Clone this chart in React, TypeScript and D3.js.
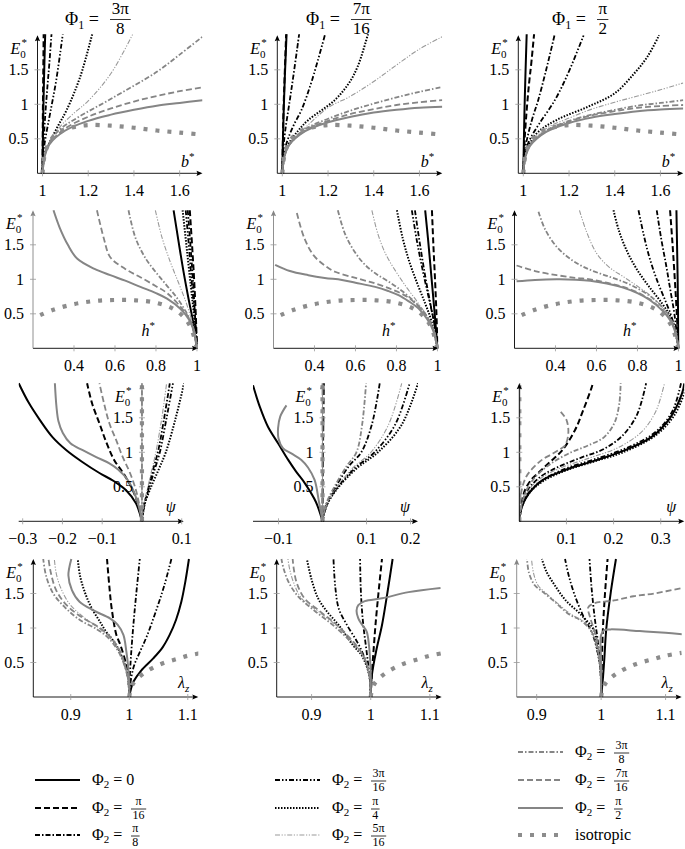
import React from "react";
import * as d3 from "d3";

type Pt = [number, number];

// series order: Φ2 = 0, π/16, π/8, 3π/16, π/4, 5π/16, 3π/8, 7π/16, π/2, isotropic
const phi2Labels = ["0", "π/16", "π/8", "3π/16", "π/4", "5π/16", "3π/8", "7π/16", "π/2", "isotropic"];
const phi1Labels = ["3π/8", "7π/16", "π/2"];

const bTicks = [1, 1.2, 1.4, 1.6];
const hTicks = [0.4, 0.6, 0.8, 1];
const psiTicks = [[-0.3, -0.2, -0.1, 0.1], [-0.1, 0.1, 0.2], [0.1, 0.2, 0.3]];
const lambdaTicks = [0.9, 1, 1.1];
const eTicks = [0.5, 1, 1.5];

// isotropic curves, same for every Φ1
const isoB: Pt[] = [[1, 0], [1.01, 0.28], [1.03, 0.45], [1.06, 0.57], [1.1, 0.64], [1.15, 0.68], [1.2, 0.7], [1.3, 0.69], [1.4, 0.66], [1.5, 0.62], [1.6, 0.59], [1.7, 0.56]];
const isoH: Pt[] = [[0.235, 0.48], [0.3, 0.56], [0.4, 0.64], [0.5, 0.685], [0.6, 0.7], [0.7, 0.695], [0.8, 0.66], [0.88, 0.58], [0.93, 0.47], [0.97, 0.3], [1, 0]];
const isoPsi: Pt[] = [[0, 0], [0, 2.0]];
const isoLam: Pt[] = [[1, 0], [1.002, 0.1], [1.007, 0.2], [1.024, 0.34], [1.052, 0.47], [1.081, 0.55], [1.101, 0.6], [1.125, 0.64]];

// row 1: E0* against b*
const b38: Pt[][] = [
  [[1, 0], [1.001, 0.35], [1.003, 0.8], [1.006, 1.3], [1.009, 1.7], [1.012, 2.05]],
  [[1, 0], [1.0005, 0.4], [1.0015, 0.9], [1.003, 1.4], [1.005, 2.05]],
  [[1, 0], [1.003, 0.35], [1.01, 0.75], [1.02, 1.2], [1.03, 1.6], [1.04, 2.05]],
  [[1, 0], [1.005, 0.33], [1.015, 0.55], [1.035, 0.9], [1.06, 1.35], [1.09, 2.05]],
  [[1, 0], [1.01, 0.28], [1.033, 0.46], [1.07, 0.7], [1.106, 0.92], [1.165, 1.4], [1.22, 2.05]],
  [[1, 0], [1.01, 0.27], [1.03, 0.45], [1.07, 0.65], [1.13, 0.85], [1.2, 1.05], [1.3, 1.45], [1.4, 2.05]],
  [[1, 0], [1.01, 0.27], [1.03, 0.44], [1.07, 0.62], [1.15, 0.8], [1.3, 1.08], [1.5, 1.47], [1.6, 1.72], [1.7, 1.98]],
  [[1, 0], [1.01, 0.26], [1.03, 0.43], [1.1, 0.65], [1.2, 0.82], [1.3, 0.94], [1.4, 1.04], [1.5, 1.12], [1.6, 1.19], [1.7, 1.245]],
  [[1, 0], [1.01, 0.25], [1.03, 0.42], [1.1, 0.62], [1.2, 0.76], [1.3, 0.85], [1.4, 0.92], [1.5, 0.98], [1.6, 1.02], [1.7, 1.06]],
];
const b716: Pt[][] = [
  [[1, 0], [1.002, 0.4], [1.006, 0.9], [1.011, 1.4], [1.019, 2.05]],
  [[1, 0], [1.002, 0.4], [1.005, 0.9], [1.01, 1.4], [1.017, 2.05]],
  [[1, 0], [1.004, 0.33], [1.012, 0.6], [1.03, 1.0], [1.05, 1.45], [1.075, 2.05]],
  [[1, 0], [1.008, 0.3], [1.025, 0.5], [1.05, 0.7], [1.084, 0.92], [1.13, 1.35], [1.19, 2.05]],
  [[1, 0], [1.01, 0.27], [1.03, 0.44], [1.07, 0.62], [1.113, 0.77], [1.229, 1.06], [1.29, 1.3], [1.33, 1.55], [1.375, 2.02]],
  [[1, 0], [1.01, 0.26], [1.03, 0.43], [1.1, 0.66], [1.2, 0.95], [1.3, 1.12], [1.4, 1.33], [1.5, 1.57], [1.6, 1.8], [1.7, 1.98]],
  [[1, 0], [1.01, 0.26], [1.03, 0.42], [1.1, 0.64], [1.2, 0.79], [1.3, 0.91], [1.4, 1.01], [1.5, 1.1], [1.6, 1.18], [1.7, 1.25]],
  [[1, 0], [1.01, 0.25], [1.03, 0.41], [1.1, 0.62], [1.2, 0.76], [1.3, 0.86], [1.4, 0.93], [1.5, 0.99], [1.6, 1.03], [1.7, 1.06]],
  [[1, 0], [1.01, 0.25], [1.03, 0.41], [1.1, 0.61], [1.2, 0.74], [1.3, 0.82], [1.4, 0.88], [1.5, 0.92], [1.6, 0.95], [1.7, 0.965]],
];
const b12: Pt[][] = [
  [[1, 0], [1.002, 0.4], [1.005, 0.9], [1.009, 1.4], [1.015, 2.05]],
  [[1, 0], [1.004, 0.38], [1.012, 0.8], [1.025, 1.3], [1.035, 1.6], [1.048, 2.05]],
  [[1, 0], [1.006, 0.32], [1.02, 0.55], [1.04, 0.8], [1.065, 1.06], [1.1, 1.5], [1.14, 2.05]],
  [[1, 0], [1.008, 0.3], [1.03, 0.5], [1.07, 0.72], [1.138, 1.06], [1.196, 1.45], [1.27, 2.05]],
  [[1, 0], [1.01, 0.27], [1.03, 0.44], [1.065, 0.6], [1.15, 0.78], [1.283, 0.965], [1.4, 1.16], [1.486, 1.45], [1.543, 1.69], [1.594, 2.0]],
  [[1, 0], [1.01, 0.26], [1.03, 0.43], [1.1, 0.65], [1.2, 0.8], [1.3, 0.93], [1.4, 1.03], [1.5, 1.12], [1.6, 1.21], [1.7, 1.31]],
  [[1, 0], [1.01, 0.25], [1.03, 0.42], [1.1, 0.62], [1.2, 0.76], [1.3, 0.85], [1.4, 0.92], [1.5, 0.98], [1.6, 1.02], [1.7, 1.06]],
  [[1, 0], [1.01, 0.25], [1.03, 0.41], [1.1, 0.61], [1.2, 0.75], [1.3, 0.84], [1.4, 0.9], [1.5, 0.95], [1.6, 0.975], [1.7, 0.99]],
  [[1, 0], [1.01, 0.25], [1.03, 0.4], [1.1, 0.6], [1.2, 0.73], [1.3, 0.81], [1.4, 0.86], [1.5, 0.9], [1.6, 0.925], [1.7, 0.94]],
];

// row 2: E0* against h*
const h38: Pt[][] = [
  [[0.886, 2.0], [0.91, 1.55], [0.935, 1.1], [0.96, 0.7], [0.98, 0.4], [1, 0]],
  [[0.965, 2.0], [0.976, 1.5], [0.986, 1.0], [0.994, 0.5], [1, 0]],
  [[0.955, 2.0], [0.968, 1.5], [0.98, 1.0], [0.99, 0.5], [1, 0]],
  [[0.945, 2.0], [0.96, 1.5], [0.975, 0.95], [0.99, 0.45], [1, 0]],
  [[0.93, 2.0], [0.95, 1.45], [0.97, 0.9], [0.985, 0.5], [1, 0]],
  [[0.797, 2.0], [0.83, 1.6], [0.87, 1.25], [0.91, 0.95], [0.945, 0.68], [0.97, 0.45], [0.99, 0.22], [1, 0]],
  [[0.666, 2.0], [0.7, 1.6], [0.75, 1.3], [0.8, 1.1], [0.85, 0.92], [0.9, 0.74], [0.94, 0.56], [0.97, 0.38], [1, 0]],
  [[0.512, 2.0], [0.545, 1.6], [0.577, 1.32], [0.65, 1.15], [0.724, 1.03], [0.8, 0.9], [0.854, 0.8], [0.92, 0.6], [0.96, 0.44], [0.985, 0.26], [1, 0]],
  [[0.3, 2.0], [0.33, 1.75], [0.37, 1.5], [0.415, 1.3], [0.5, 1.15], [0.577, 1.06], [0.65, 0.98], [0.724, 0.89], [0.8, 0.8], [0.854, 0.72], [0.92, 0.57], [0.96, 0.42], [0.985, 0.25], [1, 0]],
];
const h716: Pt[][] = [
  [[0.94, 2.0], [0.955, 1.55], [0.97, 1.05], [0.985, 0.55], [1, 0]],
  [[0.973, 2.0], [0.98, 1.5], [0.988, 1.0], [0.995, 0.5], [1, 0]],
  [[0.89, 2.0], [0.915, 1.5], [0.94, 1.05], [0.965, 0.65], [0.988, 0.3], [1, 0]],
  [[0.875, 2.0], [0.9, 1.55], [0.93, 1.1], [0.96, 0.7], [0.985, 0.35], [1, 0]],
  [[0.802, 2.0], [0.83, 1.6], [0.86, 1.28], [0.9, 0.95], [0.94, 0.65], [0.97, 0.4], [1, 0]],
  [[0.68, 2.0], [0.71, 1.65], [0.75, 1.35], [0.8, 1.1], [0.85, 0.88], [0.9, 0.68], [0.95, 0.46], [0.98, 0.28], [1, 0]],
  [[0.514, 2.0], [0.55, 1.65], [0.6, 1.38], [0.65, 1.2], [0.7, 1.08], [0.77, 0.95], [0.84, 0.8], [0.9, 0.64], [0.95, 0.46], [0.98, 0.28], [1, 0]],
  [[0.314, 1.96], [0.35, 1.6], [0.395, 1.35], [0.45, 1.2], [0.5, 1.11], [0.6, 1.02], [0.696, 0.94], [0.78, 0.85], [0.85, 0.75], [0.91, 0.6], [0.95, 0.45], [0.98, 0.27], [1, 0]],
  [[0.208, 1.21], [0.28, 1.12], [0.37, 1.06], [0.45, 1.02], [0.534, 0.99], [0.6, 0.95], [0.696, 0.89], [0.76, 0.83], [0.81, 0.77], [0.86, 0.68], [0.907, 0.58], [0.95, 0.42], [0.98, 0.25], [1, 0]],
];
const h12: Pt[][] = [
  [[0.99, 2.0], [0.993, 1.5], [0.996, 1.0], [0.998, 0.5], [1, 0]],
  [[0.959, 2.0], [0.97, 1.55], [0.98, 1.1], [0.99, 0.6], [1, 0]],
  [[0.894, 2.0], [0.915, 1.6], [0.94, 1.2], [0.96, 0.85], [0.98, 0.5], [1, 0]],
  [[0.805, 2.0], [0.83, 1.65], [0.86, 1.3], [0.9, 0.95], [0.94, 0.66], [0.97, 0.42], [1, 0]],
  [[0.683, 2.0], [0.71, 1.7], [0.75, 1.4], [0.8, 1.13], [0.86, 0.88], [0.92, 0.65], [0.96, 0.46], [0.985, 0.27], [1, 0]],
  [[0.517, 2.0], [0.55, 1.7], [0.6, 1.38], [0.66, 1.18], [0.73, 1.04], [0.8, 0.9], [0.86, 0.77], [0.92, 0.6], [0.96, 0.44], [0.985, 0.26], [1, 0]],
  [[0.317, 1.98], [0.35, 1.72], [0.406, 1.47], [0.47, 1.3], [0.537, 1.18], [0.62, 1.08], [0.7, 1.0], [0.78, 0.9], [0.86, 0.76], [0.92, 0.6], [0.96, 0.44], [0.985, 0.25], [1, 0]],
  [[0.21, 1.2], [0.3, 1.12], [0.406, 1.06], [0.5, 1.02], [0.569, 1.0], [0.65, 0.95], [0.73, 0.89], [0.8, 0.81], [0.86, 0.71], [0.92, 0.56], [0.96, 0.41], [0.985, 0.24], [1, 0]],
  [[0.21, 0.97], [0.3, 0.99], [0.406, 1.0], [0.5, 0.995], [0.569, 0.98], [0.65, 0.94], [0.73, 0.88], [0.8, 0.8], [0.86, 0.7], [0.92, 0.55], [0.959, 0.41], [0.985, 0.23], [1, 0]],
];

// row 3: E0* against ψ
const psi38: Pt[][] = [
  [[0, 0], [-0.015, 0.26], [-0.04, 0.45], [-0.07, 0.58], [-0.107, 0.7], [-0.15, 0.86], [-0.19, 1.03], [-0.225, 1.22], [-0.257, 1.47], [-0.285, 1.72], [-0.31, 2.0]],
  [[0, 0], [-0.01, 0.25], [-0.023, 0.45], [-0.045, 0.68], [-0.07, 0.89], [-0.09, 1.15], [-0.107, 1.42], [-0.125, 1.7], [-0.138, 2.0]],
  [[0, 0], [0.006, 0.25], [0.017, 0.5], [0.028, 0.75], [0.04, 1.0], [0.056, 1.5], [0.07, 2.0]],
  [[0, 0], [0.006, 0.25], [0.019, 0.5], [0.032, 0.75], [0.045, 1.0], [0.062, 1.5], [0.078, 2.0]],
  [[0, 0], [0.007, 0.25], [0.023, 0.5], [0.042, 0.75], [0.06, 1.0], [0.085, 1.5], [0.106, 2.0]],
  [[0, 0], [0.005, 0.25], [0.015, 0.5], [0.025, 0.75], [0.035, 1.0], [0.05, 1.5], [0.062, 2.0]],
  [[0, 0], [0, 2.0]],
  [[0, 0], [-0.007, 0.25], [-0.015, 0.45], [-0.03, 0.7], [-0.049, 0.94], [-0.065, 1.18], [-0.082, 1.42], [-0.095, 1.7], [-0.107, 2.0]],
  [[0, 0], [-0.012, 0.3], [-0.036, 0.6], [-0.06, 0.75], [-0.082, 0.84], [-0.115, 0.93], [-0.149, 1.03], [-0.18, 1.13], [-0.199, 1.28], [-0.21, 1.45], [-0.215, 1.66], [-0.219, 2.0]],
];
const psi716: Pt[][] = [
  [[0, 0], [-0.015, 0.28], [-0.04, 0.55], [-0.06, 0.72], [-0.078, 0.89], [-0.1, 1.12], [-0.124, 1.37], [-0.142, 1.65], [-0.158, 1.97]],
  [[0, 0], [0.001, 1.0], [0.003, 2.0]],
  [[0, 0], [0.009, 0.25], [0.03, 0.5], [0.06, 0.8], [0.088, 1.0], [0.112, 1.4], [0.13, 2.0]],
  [[0, 0], [0.01, 0.25], [0.035, 0.5], [0.075, 0.78], [0.118, 1.0], [0.165, 1.4], [0.198, 2.0]],
  [[0, 0], [0.011, 0.25], [0.037, 0.5], [0.08, 0.78], [0.126, 1.0], [0.18, 1.4], [0.217, 2.0]],
  [[0, 0], [0.01, 0.25], [0.033, 0.5], [0.07, 0.78], [0.11, 1.0], [0.15, 1.4], [0.18, 2.0]],
  [[0, 0], [0.008, 0.25], [0.027, 0.5], [0.055, 0.8], [0.077, 1.0], [0.09, 1.4], [0.099, 2.0]],
  [[0, 0], [0, 2.0]],
  [[0, 0], [-0.008, 0.28], [-0.018, 0.6], [-0.033, 0.78], [-0.048, 0.89], [-0.07, 0.98], [-0.09, 1.06], [-0.1, 1.2], [-0.101, 1.35], [-0.096, 1.52], [-0.082, 1.68]],
];
const psi12: Pt[][] = [
  [[0, 0], [0.005, 0.2], [0.02, 0.4], [0.05, 0.6], [0.1, 0.75], [0.16, 0.88], [0.22, 1.02], [0.28, 1.22], [0.32, 1.5], [0.345, 1.85], [0.35, 2.0]],
  [[0, 0], [0.003, 0.2], [0.012, 0.45], [0.025, 0.6], [0.04, 0.7], [0.065, 0.86], [0.09, 1.02], [0.118, 1.32], [0.135, 1.6], [0.153, 1.93], [0.156, 2.0]],
  [[0, 0], [0.004, 0.2], [0.015, 0.42], [0.04, 0.62], [0.08, 0.78], [0.13, 0.92], [0.18, 1.05], [0.22, 1.25], [0.25, 1.55], [0.269, 2.0]],
  [[0, 0], [0.005, 0.2], [0.018, 0.4], [0.05, 0.6], [0.1, 0.77], [0.16, 0.9], [0.23, 1.07], [0.29, 1.3], [0.325, 1.6], [0.343, 2.0]],
  [[0, 0], [0.005, 0.2], [0.02, 0.4], [0.05, 0.58], [0.1, 0.74], [0.16, 0.87], [0.22, 1.0], [0.29, 1.25], [0.33, 1.55], [0.355, 1.95]],
  [[0, 0], [0.004, 0.2], [0.016, 0.42], [0.045, 0.62], [0.09, 0.78], [0.15, 0.92], [0.21, 1.07], [0.26, 1.3], [0.29, 1.6], [0.308, 2.0]],
  [[0, 0], [0.004, 0.2], [0.015, 0.45], [0.035, 0.65], [0.07, 0.85], [0.11, 1.0], [0.146, 1.1], [0.18, 1.22], [0.202, 1.43], [0.212, 1.7], [0.215, 2.0]],
  [[0, 0], [0.002, 0.2], [0.005, 0.45], [0.015, 0.65], [0.033, 0.8], [0.05, 0.9], [0.068, 0.97], [0.085, 1.04], [0.097, 1.1], [0.104, 1.28], [0.1, 1.47], [0.086, 1.6]],
  [[0, 0], [0, 2.0]],
];

// row 4: E0* against λz
const lam38: Pt[][] = [
  [[1, 0], [1.003, 0.12], [1.007, 0.22], [1.02, 0.38], [1.041, 0.56], [1.057, 0.72], [1.069, 0.9], [1.08, 1.12], [1.089, 1.38], [1.096, 1.68], [1.102, 2.0]],
  [[1, 0], [0.999, 0.2], [0.995, 0.46], [0.985, 0.75], [0.978, 0.9], [0.97, 1.28], [0.966, 1.6], [0.962, 2.0]],
  [[1, 0], [1.001, 0.3], [1.003, 0.6], [1.007, 1.04], [1.012, 1.5], [1.018, 2.0]],
  [[1, 0], [1.002, 0.2], [1.008, 0.45], [1.018, 0.65], [1.03, 0.88], [1.047, 1.28], [1.06, 1.62], [1.072, 2.0]],
  [[1, 0], [0.999, 0.2], [0.995, 0.4], [0.978, 0.75], [0.96, 0.95], [0.95, 1.09], [0.935, 1.3], [0.924, 1.52], [0.916, 1.75], [0.912, 2.0]],
  [[1, 0], [0.999, 0.2], [0.993, 0.45], [0.984, 0.65], [0.968, 0.85], [0.948, 1.0], [0.92, 1.17], [0.897, 1.36], [0.882, 1.6], [0.875, 1.8], [0.872, 2.0]],
  [[1, 0], [0.999, 0.2], [0.992, 0.45], [0.982, 0.65], [0.965, 0.85], [0.945, 0.98], [0.915, 1.12], [0.89, 1.3], [0.87, 1.5], [0.858, 1.75], [0.853, 2.0]],
  [[1, 0], [0.999, 0.2], [0.993, 0.45], [0.985, 0.65], [0.97, 0.85], [0.95, 1.0], [0.92, 1.15], [0.893, 1.33], [0.875, 1.55], [0.866, 1.8], [0.862, 2.0]],
  [[1, 0], [1.0, 0.2], [0.998, 0.45], [0.995, 0.66], [0.99, 0.9], [0.98, 1.05], [0.967, 1.14], [0.94, 1.25], [0.915, 1.38], [0.902, 1.55], [0.896, 1.76], [0.901, 2.0]],
];
const lam716: Pt[][] = [
  [[1, 0], [1.002, 0.32], [1.01, 0.7], [1.019, 1.04], [1.028, 1.5], [1.037, 2.0]],
  [[1, 0], [1.002, 0.35], [1.005, 0.7], [1.008, 1.04], [1.013, 1.5], [1.019, 2.0]],
  [[1, 0], [0.998, 0.3], [0.993, 0.66], [0.988, 1.0], [0.985, 1.28], [0.983, 1.6], [0.982, 2.0]],
  [[1, 0], [0.998, 0.3], [0.988, 0.6], [0.977, 0.8], [0.96, 1.04], [0.946, 1.28], [0.94, 1.6], [0.937, 2.0]],
  [[1, 0], [0.998, 0.3], [0.985, 0.6], [0.97, 0.75], [0.946, 1.04], [0.925, 1.25], [0.911, 1.43], [0.9, 1.7], [0.892, 2.0]],
  [[1, 0], [0.998, 0.3], [0.99, 0.55], [0.979, 0.7], [0.96, 0.88], [0.94, 1.05], [0.91, 1.25], [0.883, 1.43], [0.87, 1.65], [0.863, 1.85], [0.86, 2.0]],
  [[1, 0], [0.998, 0.3], [0.99, 0.55], [0.978, 0.7], [0.957, 0.88], [0.935, 1.05], [0.905, 1.25], [0.878, 1.45], [0.862, 1.65], [0.853, 1.85], [0.849, 2.0]],
  [[1, 0], [0.998, 0.3], [0.99, 0.55], [0.98, 0.7], [0.962, 0.88], [0.942, 1.05], [0.913, 1.25], [0.888, 1.43], [0.875, 1.65], [0.87, 1.85], [0.868, 2.0]],
  [[1, 0], [1.0, 0.32], [0.997, 0.75], [0.993, 0.95], [0.985, 1.05], [0.979, 1.14], [0.976, 1.25], [0.979, 1.33], [0.99, 1.39], [1.019, 1.43], [1.064, 1.52], [1.118, 1.58]],
];
const lam12: Pt[][] = [
  [[1, 0], [1.003, 0.3], [1.005, 0.56], [1.008, 0.99], [1.015, 1.52], [1.023, 2.0]],
  [[1, 0], [1.001, 0.4], [1.002, 0.8], [1.003, 1.04], [1.006, 1.5], [1.01, 2.0]],
  [[1, 0], [0.999, 0.4], [0.995, 0.8], [0.99, 1.15], [0.985, 1.6], [0.982, 2.0]],
  [[1, 0], [0.999, 0.4], [0.992, 0.75], [0.985, 0.95], [0.974, 1.14], [0.96, 1.45], [0.95, 1.75], [0.944, 2.0]],
  [[1, 0], [0.999, 0.4], [0.993, 0.75], [0.99, 0.95], [0.969, 1.19], [0.945, 1.4], [0.928, 1.62], [0.915, 1.82], [0.908, 2.0]],
  [[1, 0], [0.999, 0.4], [0.993, 0.75], [0.985, 0.95], [0.972, 1.1], [0.953, 1.2], [0.932, 1.36], [0.915, 1.5], [0.902, 1.62], [0.895, 1.8], [0.892, 2.0]],
  [[1, 0], [0.999, 0.4], [0.993, 0.75], [0.985, 0.95], [0.97, 1.1], [0.95, 1.2], [0.928, 1.38], [0.91, 1.52], [0.897, 1.62], [0.888, 1.8], [0.885, 2.0]],
  [[1, 0], [0.999, 0.4], [0.995, 0.75], [0.99, 0.95], [0.983, 1.15], [0.98, 1.3], [0.99, 1.36], [1.02, 1.4], [1.05, 1.46], [1.082, 1.5], [1.126, 1.58]],
  [[1, 0], [1.0, 0.5], [1.0, 0.9], [1.005, 0.97], [1.015, 0.98], [1.06, 0.955], [1.1, 0.93], [1.126, 0.91]],
];

const W = 685;
const H = 849;
const PW = 165;
const PH = 138;
const GRAY = "#858585";
const FONT = "Liberation Serif, serif";

const styles = [
  { stroke: "#000", width: 2, dash: "" },
  { stroke: "#000", width: 2, dash: "6 3" },
  { stroke: "#000", width: 1.8, dash: "5 2 1.5 2" },
  { stroke: "#000", width: 1.8, dash: "5 2 1.5 2 1.5 2" },
  { stroke: "#000", width: 2, dash: "1.5 1.5" },
  { stroke: "#9a9a9a", width: 1.1, dash: "5 1.6 1.2 1.6 1.2 1.6" },
  { stroke: GRAY, width: 1.8, dash: "5 2 1.5 2" },
  { stroke: GRAY, width: 1.8, dash: "6 3" },
  { stroke: GRAY, width: 2, dash: "" },
  { stroke: "#8c8c8c", width: 4.2, dash: "4 8" },
];

const rows = [
  { y0: 173.3, lefts: [37.5, 277.3, 518.3], doms: [[0.978, 1.7], [0.978, 1.7], [0.978, 1.7]], ticks: [bTicks, bTicks, bTicks], data: [b38, b716, b12], iso: isoB, label: "b", star: true, sub: "", labelEnd: 8, labelLift: 6, atZero: false, grayY: [false, false, false] },
  { y0: 348.3, lefts: [33, 273.5, 514.5], doms: [[0.2, 1.005], [0.2, 1.005], [0.2, 1.005]], ticks: [hTicks, hTicks, hTicks], data: [h38, h716, h12], iso: isoH, label: "h", star: true, sub: "", labelEnd: 43, labelLift: 12, atZero: false, grayY: [true, true, false] },
  { y0: 521.3, lefts: [18.7, 253, 519.3], doms: [[-0.31, 0.105], [-0.158, 0.217], [0, 0.35]], ticks: psiTicks, data: [psi38, psi716, psi12], iso: isoPsi, label: "ψ", star: false, sub: "", labelEnd: 8, labelLift: 9, atZero: true, grayY: [true, true, false] },
  { y0: 697, lefts: [33.3, 276.7, 516.7], doms: [[0.836, 1.118], [0.841, 1.12], [0.869, 1.125]], ticks: [lambdaTicks, lambdaTicks, lambdaTicks], data: [lam38, lam716, lam12], iso: isoLam, label: "λ", star: false, sub: "z", labelEnd: 9, labelLift: 9, atZero: false, grayY: [false, false, true] },
];

const titleStarts = [65, 306, 552];
const legendPos: Pt[] = [[35, 780], [35, 808], [35, 835], [275, 780], [275, 808], [275, 835], [518, 752], [518, 780], [518, 808], [518, 835]];

const fmt = (v: number) => (v < 0 ? "\u2212" : "") + String(Math.abs(v));

function Frac({ x, y, num, den, size }: { x: number; y: number; num: string; den: string; size: number }) {
  const w = Math.max(num.length, den.length) * size * 0.55 + 2;
  const cx = x + w / 2;
  return (
    <g>
      <text x={cx} y={y - size * 0.35} fontSize={size} textAnchor="middle">{num}</text>
      <line x1={x} x2={x + w} y1={y} y2={y} stroke="#000" strokeWidth={0.8} />
      <text x={cx} y={y + size * 0.85} fontSize={size} textAnchor="middle">{den}</text>
    </g>
  );
}

function Panel({ row, ri, ci }: any) {
  const left = row.lefts[ci];
  const right = left + PW;
  const y0 = row.y0;
  const top = y0 - PH;
  const x = d3.scaleLinear().domain(row.doms[ci]).range([left, right]);
  const y = d3.scaleLinear().domain([0, 2]).range([y0, top]);
  const line = d3.line<Pt>().x((d) => x(d[0])).y((d) => y(d[1])).curve(d3.curveCatmullRom.alpha(0.5));
  const curves: Pt[][] = [...row.data[ci], row.iso];
  const ax = row.atZero ? x(0) : left;
  const clipId = `clip-${ri}-${ci}`;
  const yColor = row.grayY[ci] ? GRAY : "#000";
  return (
    <g>
      <defs>
        <clipPath id={clipId}>
          <rect x={left} y={top - 1} width={PW} height={PH + 4} />
        </clipPath>
      </defs>
      <g clipPath={`url(#${clipId})`} fill="none">
        {curves.map((c, i) => (
          <path key={i} d={line(c) || ""} stroke={styles[i].stroke} strokeWidth={styles[i].width} strokeDasharray={styles[i].dash || undefined} />
        ))}
      </g>
      {/* x axis */}
      <line x1={left} x2={right - 2} y1={y0} y2={y0} stroke="#000" strokeWidth={0.9} />
      <path d={`M${right},${y0} L${right - 6},${y0 - 2.6} L${right - 5},${y0} L${right - 6},${y0 + 2.6} Z`} fill="#000" />
      {row.ticks[ci].map((t: number) => (
        <g key={t}>
          <line x1={x(t)} x2={x(t)} y1={y0 - 3} y2={y0 + 3} stroke="#999" strokeWidth={0.8} />
          <text x={x(t)} y={y0 + 23} fontSize={16} textAnchor="middle">{fmt(t)}</text>
        </g>
      ))}
      {/* y axis */}
      <line x1={ax} x2={ax} y1={y0} y2={top + 2} stroke={yColor} strokeWidth={0.9} />
      <path d={`M${ax},${top} L${ax - 2.6},${top + 6} L${ax},${top + 5} L${ax + 2.6},${top + 6} Z`} fill={yColor} />
      {eTicks.map((t) => (
        <g key={t}>
          <line x1={ax - 3} x2={ax + 3} y1={y(t)} y2={y(t)} stroke="#999" strokeWidth={0.8} />
          <text x={ax - 9} y={y(t) + 5.5} fontSize={16} textAnchor="end">{fmt(t)}</text>
        </g>
      ))}
      {/* E0* */}
      <text x={ax - 27} y={top + 19} fontSize={16}>
        <tspan fontStyle="italic">E</tspan>
        <tspan fontSize={11} dy={3.5}>0</tspan>
      </text>
      <text x={ax - 16} y={top + 11} fontSize={11}>*</text>
      {/* x label */}
      <text x={right - row.labelEnd} y={y0 - row.labelLift} fontSize={16} textAnchor="end">
        <tspan fontStyle="italic">{row.label}</tspan>
        {row.star ? <tspan fontSize={11} dy={-7}>*</tspan> : null}
        {row.sub ? <tspan fontSize={11} fontStyle="italic" dy={4}>{row.sub}</tspan> : null}
      </text>
    </g>
  );
}

function LegendEntry({ i }: { i: number }) {
  const [lx, ly] = legendPos[i];
  const s = styles[i];
  const lab = phi2Labels[i];
  const tx = lx + 57;
  let label;
  if (lab === "isotropic") {
    label = <text x={tx} y={ly + 5} fontSize={16}>isotropic</text>;
  } else if (lab.includes("/")) {
    const [num, den] = lab.split("/");
    label = (
      <g>
        <text x={tx} y={ly + 5} fontSize={16}>
          Φ<tspan fontSize={11} dy={3}>2</tspan><tspan dy={-3}> =</tspan>
        </text>
        <Frac x={tx + 39} y={ly + 1} num={num} den={den} size={12} />
      </g>
    );
  } else {
    label = (
      <text x={tx} y={ly + 5} fontSize={16}>
        Φ<tspan fontSize={11} dy={3}>2</tspan><tspan dy={-3}> = {lab}</tspan>
      </text>
    );
  }
  return (
    <g>
      <line x1={lx} x2={lx + 45} y1={ly} y2={ly} stroke={s.stroke} strokeWidth={s.width} strokeDasharray={s.dash || undefined} />
      {label}
    </g>
  );
}

export default function App() {
  return (
    <svg width={W} height={H} style={{ position: "absolute", left: 0, top: 0, background: "#fff" }} fontFamily={FONT}>
      <rect width={W} height={H} fill="#fff" />
      {phi1Labels.map((lab, ci) => {
        const [num, den] = lab.split("/");
        const sx = titleStarts[ci];
        return (
          <g key={lab}>
            <text x={sx} y={25} fontSize={18}>
              Φ<tspan fontSize={12} dy={4}>1</tspan><tspan dy={-4}> =</tspan>
            </text>
            <Frac x={sx + 45} y={19.5} num={num} den={den} size={17} />
          </g>
        );
      })}
      {rows.map((row, ri) => row.lefts.map((_, ci) => <Panel key={`${ri}-${ci}`} row={row} ri={ri} ci={ci} />))}
      {phi2Labels.map((_, i) => <LegendEntry key={i} i={i} />)}
    </svg>
  );
}
